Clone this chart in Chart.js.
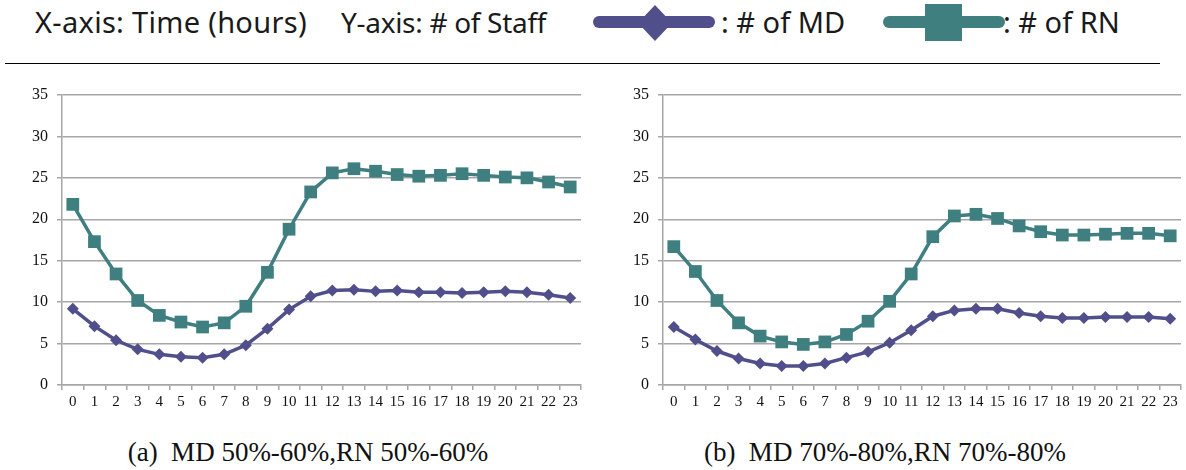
<!DOCTYPE html>
<html>
<head>
<meta charset="utf-8">
<script src="https://cdn.jsdelivr.net/npm/chart.js@4.4.0/dist/chart.umd.min.js"></script>
<style>
	body { margin: 0; width: 1186px; height: 470px; background: #fff; position: relative; overflow: hidden; }
	.leg { position: absolute; top: 2px; line-height: 40px; font-family: "Noto Sans", sans-serif; font-size: 29px; color: #1a1a1a; white-space: pre; }
	.icon { position: absolute; top: 0; }
	.rule { position: absolute; left: 5px; top: 63px; width: 1155px; height: 1px; background: #000; }
	.box { position: absolute; top: 85px; }
	.box canvas { display: block; }
	.cap { position: absolute; top: 437px; width: 560px; line-height: 30px; text-align: center; font-family: "Liberation Serif", "Times New Roman", serif; font-size: 27px; color: #111; white-space: pre; }
</style>
</head>
<body>
<div class="leg" style="left:35px; letter-spacing:0.3px">X-axis: Time (hours)</div>
<div class="leg" style="left:341px; font-size:28px; letter-spacing:-0.3px">Y-axis: # of Staff</div>
<svg class="icon" style="left:592px" width="124" height="46">
	<line x1="7" y1="22" x2="117" y2="22" stroke="#514f8b" stroke-width="12" stroke-linecap="round"/>
	<polygon points="63,5 80,23 63,41 46,23" fill="#514f8b"/>
</svg>
<div class="leg" style="left:721px">: # of MD</div>
<svg class="icon" style="left:882px" width="124" height="46">
	<line x1="7" y1="22" x2="117" y2="22" stroke="#3f7f80" stroke-width="12" stroke-linecap="round"/>
	<rect x="43" y="4" width="37" height="37" fill="#3f7f80"/>
</svg>
<div class="leg" style="left:1003px">: # of RN</div>
<div class="rule"></div>

<div class="box" style="left:0px"><canvas id="chartA" width="590" height="330"></canvas></div>
<div class="box" style="left:601px"><canvas id="chartB" width="589" height="330"></canvas></div>

<div class="cap" style="left:28px">(a)  MD 50%-60%,RN 50%-60%</div>
<div class="cap" style="left:605px">(b)  MD 70%-80%,RN 70%-80%</div>

<script>
const hours = ['0','1','2','3','4','5','6','7','8','9','10','11','12','13','14','15','16','17','18','19','20','21','22','23'];
const yTicks = [0, 35, 5]; // min, max, step

// (a) MD 50%-60%, RN 50%-60%
const mdA = [9.2, 7.1, 5.4, 4.3, 3.7, 3.4, 3.3, 3.7, 4.8, 6.8, 9.1, 10.7, 11.4, 11.5, 11.3, 11.4, 11.2, 11.2, 11.1, 11.2, 11.3, 11.2, 10.9, 10.5];
const rnA = [21.8, 17.3, 13.4, 10.2, 8.4, 7.6, 7.0, 7.5, 9.5, 13.6, 18.8, 23.3, 25.6, 26.1, 25.8, 25.4, 25.2, 25.3, 25.5, 25.3, 25.1, 25.0, 24.5, 23.9];

// (b) MD 70%-80%, RN 70%-80%
const mdB = [7.0, 5.5, 4.1, 3.2, 2.6, 2.3, 2.3, 2.6, 3.3, 4.0, 5.1, 6.6, 8.3, 9.0, 9.2, 9.2, 8.7, 8.3, 8.1, 8.1, 8.2, 8.2, 8.2, 8.0];
const rnB = [16.7, 13.7, 10.2, 7.5, 5.9, 5.2, 4.9, 5.2, 6.1, 7.7, 10.1, 13.4, 17.9, 20.4, 20.6, 20.1, 19.2, 18.5, 18.1, 18.1, 18.2, 18.3, 18.3, 18.0];

const mdColor = '#514f8b';
const rnColor = '#3f7f80';
const gridColor = '#a6a6a6';
const tickFont = "'Liberation Serif', 'Times New Roman', serif";

function staffChart(id, md, rn) {
	let chartID = document.getElementById(id);
	new Chart(chartID, {
		type: 'line',
		data: {
			labels: hours,
			datasets: [
			{
				label: '# of RN',
				data: rn,
				borderColor: rnColor,
				backgroundColor: rnColor,
				borderWidth: 3.5,
				pointStyle: 'rect',
				pointRadius: 9,
				pointBorderWidth: 0,
				fill: false,
				tension: 0
			},
			{
				label: '# of MD',
				data: md,
				borderColor: mdColor,
				backgroundColor: mdColor,
				borderWidth: 3.5,
				pointStyle: 'rectRot',
				pointRadius: 6,
				pointBorderWidth: 0,
				fill: false,
				tension: 0
			},
		]
		},
		options: {
			responsive: false,
			animation: false,
			layout: { padding: { top: 10, right: 9, left: 0, bottom: 0 } },
			plugins: {
				legend: { display: false },
				tooltip: { enabled: false },
			},
			scales: {
				x: {
					offset: true,
					afterFit: (s) => { s.height = 30; s.paddingLeft = 0; s.paddingRight = 0; },
					border: { color: gridColor, width: 1.5 },
					grid: { offset: true, drawOnChartArea: false, color: gridColor, tickLength: 5, lineWidth: 1.5 },
					ticks: {
						maxRotation: 0,
						autoSkip: false,
						padding: 3,
						color: '#111',
						font: { family: tickFont, size: 15 }
					}
				},
				y: {
					min: yTicks[0],
					max: yTicks[1],
					afterFit: (s) => { s.width = 62; s.paddingTop = 0; s.paddingBottom = 0; },
					border: { color: gridColor, width: 1.5 },
					grid: { color: gridColor, lineWidth: 1.5, tickLength: 5 },
					ticks: {
						stepSize: yTicks[2],
						padding: 9,
						color: '#111',
						font: { family: tickFont, size: 16 }
					}
				}
			}
		}
	});
}

staffChart('chartA', mdA, rnA);
staffChart('chartB', mdB, rnB);
</script>
</body>
</html>
